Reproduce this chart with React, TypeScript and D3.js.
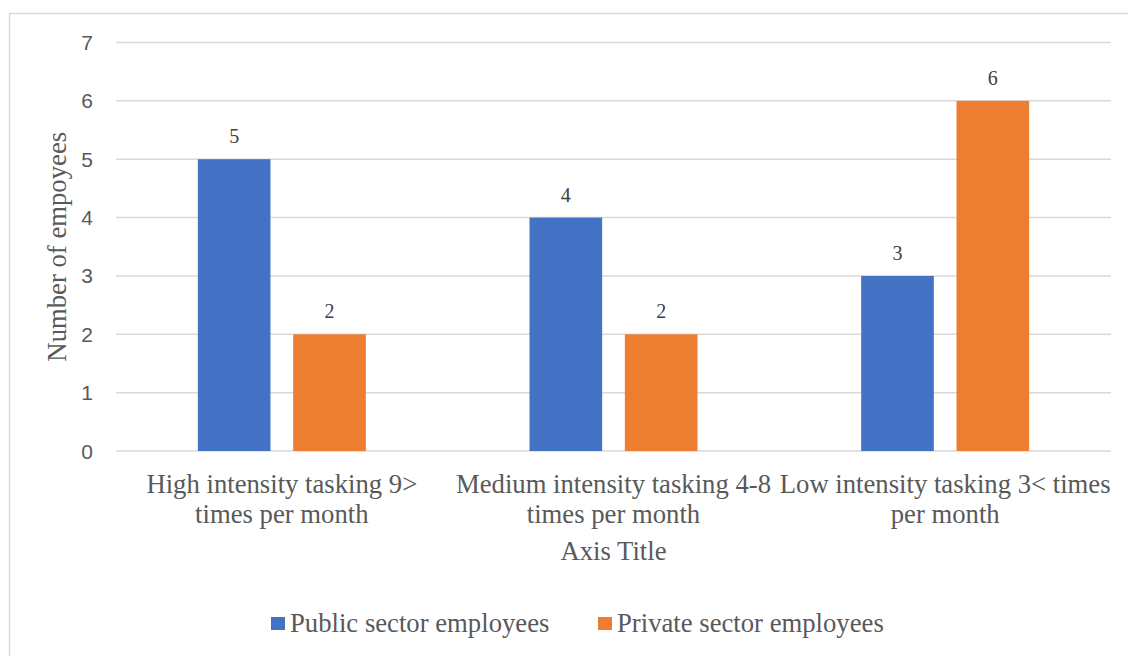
import React from "react";
import * as d3 from "d3";

const categories: string[][] = [
  ["High intensity tasking 9>", "times per month"],
  ["Medium intensity tasking 4-8", "times per month"],
  ["Low intensity tasking 3< times", "per month"],
];
const seriesNames = ["Public sector employees", "Private sector employees"];
const publicValues = [5, 4, 3];
const privateValues = [2, 2, 6];
const yTicks = [0, 1, 2, 3, 4, 5, 6, 7];
const colors = ["#4472C4", "#ED7D31"];

const W = 1128;
const H = 656;
const plot = { left: 116, right: 1111, top: 42.5, bottom: 451 };
const serif = "'Liberation Serif', 'Times New Roman', serif";
const sans = "'Liberation Sans', Arial, sans-serif";
const textColor = "#595959";
const bigFont = 26.7;

export default function App() {
  const x0 = d3
    .scaleBand<number>()
    .domain(d3.range(categories.length))
    .range([plot.left, plot.right])
    .paddingInner(0)
    .paddingOuter(0);
  const groupW = x0.bandwidth();
  const pairW = 168;
  const x1 = d3
    .scaleBand<number>()
    .domain([0, 1])
    .range([(groupW - pairW) / 2, (groupW + pairW) / 2])
    .paddingInner(20 / 84)
    .paddingOuter(0);
  const y = d3.scaleLinear().domain([0, 7]).range([plot.bottom, plot.top]);
  const series = [publicValues, privateValues];

  return (
    <svg
      width={W}
      height={H}
      style={{ position: "absolute", left: 0, top: 0, display: "block" }}
    >
      <rect x={0} y={0} width={W} height={H} fill="#ffffff" />
      <rect
        x={9.5}
        y={13.5}
        width={W + 10}
        height={H + 10}
        fill="#ffffff"
        stroke="#d9d9d9"
        strokeWidth={1.5}
      />
      {yTicks.map((t) => (
        <g key={t}>
          <line
            x1={plot.left}
            x2={plot.right}
            y1={y(t)}
            y2={y(t)}
            stroke="#d9d9d9"
            strokeWidth={1.5}
          />
          <text
            x={93}
            y={y(t)}
            dy="0.36em"
            textAnchor="end"
            fontFamily={sans}
            fontSize={21}
            fill={textColor}
          >
            {t}
          </text>
        </g>
      ))}
      {series.map((vals, si) =>
        vals.map((v, ci) => {
          const bx = (x0(ci) as number) + (x1(si) as number);
          const bw = x1.bandwidth();
          return (
            <g key={`${si}-${ci}`}>
              <rect
                x={bx}
                y={y(v)}
                width={bw}
                height={y(0) - y(v)}
                fill={colors[si]}
              />
              <text
                x={bx + bw / 2}
                y={y(v) - 16}
                textAnchor="middle"
                fontFamily={serif}
                fontSize={20}
                fill="#404040"
              >
                {v}
              </text>
            </g>
          );
        })
      )}
      {categories.map((lines, ci) => (
        <text
          key={ci}
          x={(x0(ci) as number) + groupW / 2}
          y={493}
          textAnchor="middle"
          fontFamily={serif}
          fontSize={bigFont}
          fill={textColor}
        >
          {lines.map((l, li) => (
            <tspan key={li} x={(x0(ci) as number) + groupW / 2} dy={li === 0 ? 0 : 30}>
              {l}
            </tspan>
          ))}
        </text>
      ))}
      <text
        x={(plot.left + plot.right) / 2}
        y={560}
        textAnchor="middle"
        fontFamily={serif}
        fontSize={bigFont}
        fill={textColor}
      >
        Axis Title
      </text>
      <text
        transform={`translate(66, ${(plot.top + plot.bottom) / 2}) rotate(-90)`}
        textAnchor="middle"
        fontFamily={serif}
        fontSize={bigFont}
        fill={textColor}
      >
        Number of empoyees
      </text>
      {seriesNames.map((name, i) => {
        const lx = i === 0 ? 271 : 598;
        return (
          <g key={name}>
            <rect x={lx} y={617} width={14} height={13} fill={colors[i]} />
            <text
              x={lx + 19}
              y={632}
              fontFamily={serif}
              fontSize={bigFont}
              fill={textColor}
            >
              {name}
            </text>
          </g>
        );
      })}
    </svg>
  );
}
